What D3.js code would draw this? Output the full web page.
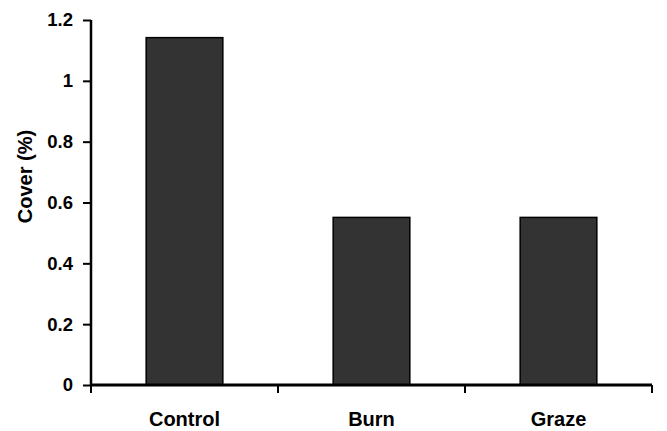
<!DOCTYPE html>
<html><head><meta charset="utf-8">
<script src="https://cdn.jsdelivr.net/npm/d3@7"></script>
<style>body{margin:0;background:#fff}svg{display:block}text{font-family:"Liberation Sans",Arial,sans-serif;font-weight:bold}</style>
</head><body>
<script>
const categories = ["Control", "Burn", "Graze"];
const values = [1.142, 0.551, 0.551];
const yTicks = [0, 0.2, 0.4, 0.6, 0.8, 1, 1.2];
const yTitle = "Cover (%)";

const W = 667, H = 431;
const m = {left: 91, right: 15, top: 20, bottom: 46};
const svg = d3.select("body").append("svg").attr("width", W).attr("height", H);

const x = d3.scaleBand().domain(categories).range([m.left, W - m.right]).paddingInner(0.59).paddingOuter(0.295);
const y = d3.scaleLinear().domain([0, 1.2]).range([H - m.bottom, m.top]);

svg.selectAll("rect.bar").data(categories).join("rect")
  .attr("x", d => x(d)).attr("width", x.bandwidth())
  .attr("y", (d, i) => y(values[i])).attr("height", (d, i) => y(0) - y(values[i]))
  .attr("fill", "#333333").attr("stroke", "#000").attr("stroke-width", 1.5);

const yAxis = svg.append("g").attr("transform", `translate(${m.left},0)`)
  .call(d3.axisLeft(y).tickValues(yTicks).tickFormat(d => String(d)).tickSize(8).tickPadding(10));
yAxis.select(".domain").attr("stroke-width", 2.5).attr("d", `M0,${y(1.2)}V${y(0)}`);
yAxis.selectAll(".tick line").attr("stroke-width", 2);
yAxis.selectAll("text").style("font-size", "18.5px").attr("fill", "#000");

// x axis
const step = x.step();
const bounds = d3.range(categories.length + 1).map(i => m.left + i * step);
const xg = svg.append("g");
xg.append("line").attr("x1", m.left - 1).attr("x2", W - m.right).attr("y1", y(0)).attr("y2", y(0))
  .attr("stroke", "#000").attr("stroke-width", 3);
xg.selectAll("line.t").data(bounds).join("line").attr("class", "t")
  .attr("x1", d => d).attr("x2", d => d).attr("y1", y(0)).attr("y2", y(0) + 8)
  .attr("stroke", "#000").attr("stroke-width", 2);
xg.selectAll("text").data(categories).join("text")
  .attr("x", d => x(d) + x.bandwidth() / 2).attr("y", y(0) + 41)
  .attr("text-anchor", "middle").style("font-size", "20px").text(d => d);

svg.append("text").attr("transform", `translate(32,176.5) rotate(-90)`)
  .attr("text-anchor", "middle").style("font-size", "20px").text(yTitle);
</script>
</body></html>
